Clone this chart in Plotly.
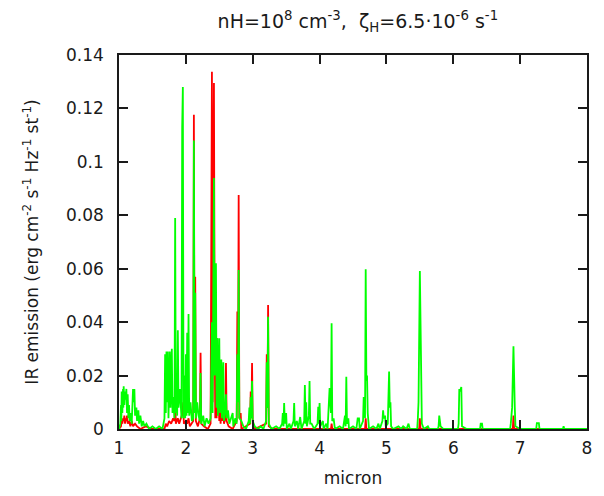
"""IR emission spectrum, nH=1e8 cm^-3."""

import plotly.graph_objects as go

# red spectrum (drawn first, underneath)
red_x = [
    1.00, 1.03, 1.04, 1.05, 1.06, 1.07, 1.08, 1.09, 1.10, 1.11, 1.12, 1.13, 1.15, 1.17,
    1.19, 1.21, 1.24, 1.27, 1.32, 1.40, 1.50, 1.68, 1.70, 1.72, 1.75, 1.78, 1.81, 1.83,
    1.84, 1.85, 1.88, 1.90, 1.95, 1.96, 1.97, 2.00, 2.02, 2.04, 2.06, 2.11, 2.12, 2.13,
    2.14, 2.15, 2.18, 2.21, 2.22, 2.23, 2.27, 2.33, 2.37, 2.39, 2.40, 2.42, 2.43, 2.44,
    2.45, 2.46, 2.47, 2.48, 2.49, 2.50, 2.51, 2.52, 2.53, 2.54, 2.56, 2.57, 2.59, 2.60,
    2.61, 2.64, 2.70, 2.76, 2.77, 2.78, 2.79, 2.80, 2.82, 2.83, 2.96, 2.97, 2.98, 2.99,
    3.00, 3.03, 3.20, 3.21, 3.22, 3.23, 3.24, 3.30, 4.17, 4.18, 4.19, 4.68, 4.69, 4.70,
    5.49, 5.50, 5.51, 6.89, 6.90, 6.91, 8.00,
]
red_y = [
    0.000, 0.001, 0.003, 0.002, 0.004, 0.003, 0.005, 0.002, 0.004, 0.003, 0.005, 0.002, 0.003, 0.001,
    0.003, 0.001, 0.002, 0.001, 0.000, 0.001, 0.000, 0.000, 0.002, 0.001, 0.003, 0.002, 0.004, 0.003,
    0.0116, 0.002, 0.004, 0.002, 0.006, 0.010, 0.002, 0.003, 0.002, 0.004, 0.001, 0.003, 0.1176, 0.008,
    0.057, 0.003, 0.001, 0.004, 0.0285, 0.002, 0.001, 0.000, 0.002, 0.1337, 0.010, 0.1295, 0.040, 0.004,
    0.036, 0.004, 0.034, 0.006, 0.010, 0.003, 0.007, 0.002, 0.008, 0.003, 0.007, 0.002, 0.004, 0.0247,
    0.003, 0.001, 0.000, 0.003, 0.044, 0.012, 0.0876, 0.004, 0.006, 0.000, 0.002, 0.014, 0.004, 0.0247,
    0.002, 0.000, 0.002, 0.028, 0.008, 0.0464, 0.001, 0.000, 0.000, 0.002, 0.000, 0.000, 0.004, 0.000,
    0.000, 0.004, 0.000, 0.000, 0.005, 0.000, 0.000,
]

# green spectrum (drawn on top)
green_x = [
    1.00, 1.02, 1.03, 1.035, 1.04, 1.05, 1.06, 1.065, 1.07, 1.08, 1.09, 1.10, 1.11, 1.12,
    1.13, 1.14, 1.15, 1.16, 1.18, 1.19, 1.21, 1.22, 1.23, 1.24, 1.26, 1.27, 1.29, 1.30,
    1.32, 1.34, 1.36, 1.38, 1.41, 1.45, 1.50, 1.55, 1.60, 1.65, 1.68, 1.69, 1.70, 1.71,
    1.72, 1.73, 1.74, 1.76, 1.77, 1.79, 1.80, 1.81, 1.83, 1.84, 1.85, 1.86, 1.87, 1.88,
    1.89, 1.91, 1.935, 1.945, 1.955, 1.965, 1.98, 1.99, 2.00, 2.01, 2.02, 2.03, 2.04, 2.05,
    2.07, 2.09, 2.11, 2.12, 2.13, 2.14, 2.15, 2.17, 2.19, 2.21, 2.22, 2.23, 2.26, 2.28,
    2.31, 2.34, 2.37, 2.39, 2.40, 2.42, 2.43, 2.45, 2.46, 2.47, 2.48, 2.50, 2.51, 2.53,
    2.54, 2.56, 2.57, 2.59, 2.60, 2.61, 2.63, 2.65, 2.68, 2.70, 2.71, 2.74, 2.76, 2.77,
    2.78, 2.79, 2.80, 2.83, 2.86, 2.90, 2.94, 2.95, 2.96, 2.97, 2.98, 2.99, 3.00, 3.03,
    3.08, 3.12, 3.16, 3.20, 3.21, 3.22, 3.23, 3.24, 3.28, 3.35, 3.40, 3.44, 3.45, 3.46,
    3.47, 3.48, 3.50, 3.51, 3.55, 3.57, 3.61, 3.62, 3.63, 3.66, 3.68, 3.71, 3.73, 3.77,
    3.78, 3.79, 3.80, 3.81, 3.84, 3.85, 3.86, 3.88, 3.92, 3.97, 3.98, 3.99, 4.00, 4.01,
    4.05, 4.06, 4.10, 4.12, 4.15, 4.17, 4.18, 4.19, 4.21, 4.23, 4.30, 4.35, 4.38, 4.39,
    4.40, 4.41, 4.43, 4.44, 4.50, 4.55, 4.57, 4.59, 4.60, 4.65, 4.66, 4.68, 4.69, 4.70,
    4.71, 4.72, 4.74, 4.80, 4.85, 4.88, 4.90, 4.94, 4.95, 4.96, 4.98, 4.99, 5.02, 5.04,
    5.05, 5.06, 5.07, 5.10, 5.18, 5.22, 5.25, 5.30, 5.33, 5.35, 5.46, 5.47, 5.48, 5.50,
    5.51, 5.52, 5.53, 5.56, 5.62, 5.64, 5.77, 5.78, 5.79, 5.81, 5.85, 6.07, 6.08, 6.09,
    6.10, 6.12, 6.13, 6.20, 6.40, 6.41, 6.43, 6.44, 6.85, 6.86, 6.88, 6.90, 6.91, 6.92,
    6.93, 7.00, 7.24, 7.25, 7.28, 7.29, 7.64, 7.65, 7.66, 8.00,
]
green_y = [
    0.000, 0.002, 0.009, 0.003, 0.014, 0.006, 0.015, 0.008, 0.016, 0.009, 0.014, 0.011, 0.015, 0.006,
    0.013, 0.004, 0.009, 0.003, 0.006, 0.002, 0.015, 0.010, 0.015, 0.005, 0.008, 0.003, 0.007, 0.002,
    0.005, 0.001, 0.003, 0.001, 0.002, 0.000, 0.001, 0.000, 0.001, 0.000, 0.004, 0.028, 0.006, 0.029,
    0.010, 0.029, 0.004, 0.029, 0.008, 0.030, 0.006, 0.012, 0.004, 0.079, 0.006, 0.018, 0.005, 0.037,
    0.008, 0.015, 0.004, 0.113, 0.128, 0.004, 0.020, 0.004, 0.028, 0.005, 0.036, 0.006, 0.043, 0.005,
    0.010, 0.003, 0.004, 0.108, 0.006, 0.051, 0.004, 0.010, 0.005, 0.003, 0.021, 0.002, 0.005, 0.001,
    0.004, 0.002, 0.004, 0.040, 0.006, 0.094, 0.020, 0.062, 0.008, 0.034, 0.005, 0.034, 0.006, 0.026,
    0.004, 0.025, 0.003, 0.008, 0.013, 0.004, 0.007, 0.002, 0.005, 0.006, 0.001, 0.004, 0.002, 0.028,
    0.010, 0.0595, 0.004, 0.003, 0.001, 0.000, 0.003, 0.008, 0.002, 0.012, 0.004, 0.018, 0.003, 0.001,
    0.000, 0.001, 0.000, 0.003, 0.025, 0.008, 0.042, 0.002, 0.000, 0.001, 0.000, 0.002, 0.006, 0.001,
    0.0097, 0.002, 0.006, 0.000, 0.002, 0.000, 0.003, 0.0097, 0.001, 0.003, 0.000, 0.0045, 0.000, 0.003,
    0.0165, 0.002, 0.010, 0.001, 0.005, 0.018, 0.002, 0.002, 0.000, 0.002, 0.0083, 0.002, 0.0097, 0.001,
    0.003, 0.000, 0.002, 0.000, 0.0153, 0.006, 0.0396, 0.003, 0.004, 0.000, 0.001, 0.000, 0.005, 0.001,
    0.0196, 0.002, 0.004, 0.000, 0.001, 0.000, 0.004, 0.004, 0.000, 0.003, 0.012, 0.004, 0.0598, 0.018,
    0.020, 0.006, 0.000, 0.001, 0.000, 0.002, 0.000, 0.003, 0.007, 0.004, 0.005, 0.001, 0.002, 0.0215,
    0.008, 0.010, 0.001, 0.000, 0.001, 0.000, 0.001, 0.000, 0.002, 0.000, 0.000, 0.004, 0.010, 0.0591,
    0.030, 0.025, 0.002, 0.000, 0.001, 0.000, 0.000, 0.001, 0.005, 0.001, 0.000, 0.000, 0.002, 0.015,
    0.014, 0.0157, 0.001, 0.000, 0.000, 0.002, 0.002, 0.000, 0.000, 0.002, 0.008, 0.031, 0.010, 0.008,
    0.001, 0.000, 0.000, 0.0022, 0.0022, 0.000, 0.000, 0.001, 0.000, 0.000,
]

x_ticks = [1, 2, 3, 4, 5, 6, 7, 8]
y_ticks = [0, 0.02, 0.04, 0.06, 0.08, 0.1, 0.12, 0.14]
y_tick_text = ["0", "0.02", "0.04", "0.06", "0.08", "0.1", "0.12", "0.14"]

font = {"family": "DejaVu Sans", "size": 17, "color": "#1a1a1a"}

fig = go.Figure()
fig.add_trace(
    go.Scatter(x=red_x, y=red_y, mode="lines", line={"color": "#ff0000", "width": 1.8}),
)
fig.add_trace(
    go.Scatter(x=green_x, y=green_y, mode="lines", line={"color": "#00ff00", "width": 1.8}),
)

axis_style = {
    "showgrid": False,
    "zeroline": False,
    "showline": True,
    "linecolor": "#1a1a1a",
    "linewidth": 1.5,
    "mirror": "ticks",
    "ticks": "inside",
    "ticklen": 9,
    "tickwidth": 1.5,
    "tickcolor": "#1a1a1a",
    "tickfont": font,
    "automargin": False,
    "layer": "above traces",
}

fig.update_xaxes(
    range=[1, 8],
    tickvals=x_ticks,
    title={"text": "micron", "font": font, "standoff": 15},
    ticklabelstandoff=3,
    **axis_style,
)
fig.update_yaxes(
    range=[0, 0.14],
    tickvals=y_ticks,
    ticktext=y_tick_text,
    title={
        "text": "IR emission (erg cm<sup>-2</sup> s<sup>-1</sup> Hz<sup>-1</sup> st<sup>-1</sup>)",
        "font": font,
        "standoff": 23,
    },
    ticklabelstandoff=10,
    **axis_style,
)

# the page body already offsets the figure by 8px, so margins are shifted
fig.update_layout(
    width=596,
    height=488,
    margin={"l": 111, "r": 17, "t": 47, "b": 67},
    paper_bgcolor="white",
    plot_bgcolor="white",
    showlegend=False,
    font=font,
    title={
        "text": "nH=10<sup>8</sup> cm<sup>-3</sup>,  ζ<sub>H</sub>=6.5·10<sup>-6</sup> s<sup>-1</sup>",
        "font": {"family": "DejaVu Sans", "size": 19, "color": "#1a1a1a"},
        "x": 0.587,
        "xanchor": "center",
        "y": 0.972,
        "yanchor": "middle",
    },
)

fig.write_html("out.html")
